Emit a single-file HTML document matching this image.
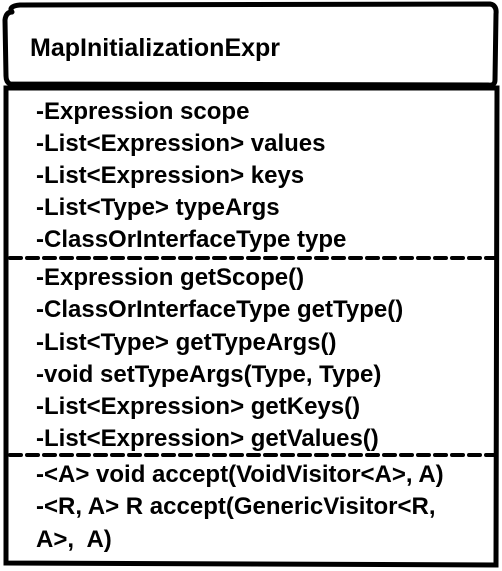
<!DOCTYPE html>
<html><head><style>body{margin:0;background:#fff}</style></head><body>
<svg width="502" height="571" xmlns="http://www.w3.org/2000/svg" style="display:block">
<rect width="502" height="571" fill="#fff"/>
<g fill="none" stroke="#000" stroke-width="5" stroke-linecap="round">
<path d="M12,12 Q8,6 20,5 L490,4 Q497,5 496,14 L495,80 Q495,86 488,85 L10,84 Q6,82 6,76 L5,20 Q6,12 12,12"/>
<path d="M6,88 L497,88 L496,565 L6,563 Z"/>
<path d="M10,258 L495,258" stroke-dasharray="11,6" stroke-width="4"/>
<path d="M10,455 L495,455" stroke-dasharray="11,6" stroke-width="4"/>
</g>
<g font-family="Liberation Sans, sans-serif" font-weight="bold" font-size="24" fill="#000">
<text x="30" y="56" style="font-size:25px">MapInitializationExpr</text>
<text x="36" y="119">-Expression scope</text>
<text x="36" y="151">-List&lt;Expression&gt; values</text>
<text x="36" y="183">-List&lt;Expression&gt; keys</text>
<text x="36" y="215">-List&lt;Type&gt; typeArgs</text>
<text x="36" y="247">-ClassOrInterfaceType type</text>
<text x="36" y="285">-Expression getScope()</text>
<text x="36" y="317">-ClassOrInterfaceType getType()</text>
<text x="36" y="350">-List&lt;Type&gt; getTypeArgs()</text>
<text x="36" y="382">-void setTypeArgs(Type, Type)</text>
<text x="36" y="414">-List&lt;Expression&gt; getKeys()</text>
<text x="36" y="446">-List&lt;Expression&gt; getValues()</text>
<text x="36" y="482">-&lt;A&gt; void accept(VoidVisitor&lt;A&gt;, A)</text>
<text x="36" y="514">-&lt;R, A&gt; R accept(GenericVisitor&lt;R,</text>
<text x="36" y="547" xml:space="preserve">A&gt;,  A)</text>
</g>
</svg>
</body></html>
